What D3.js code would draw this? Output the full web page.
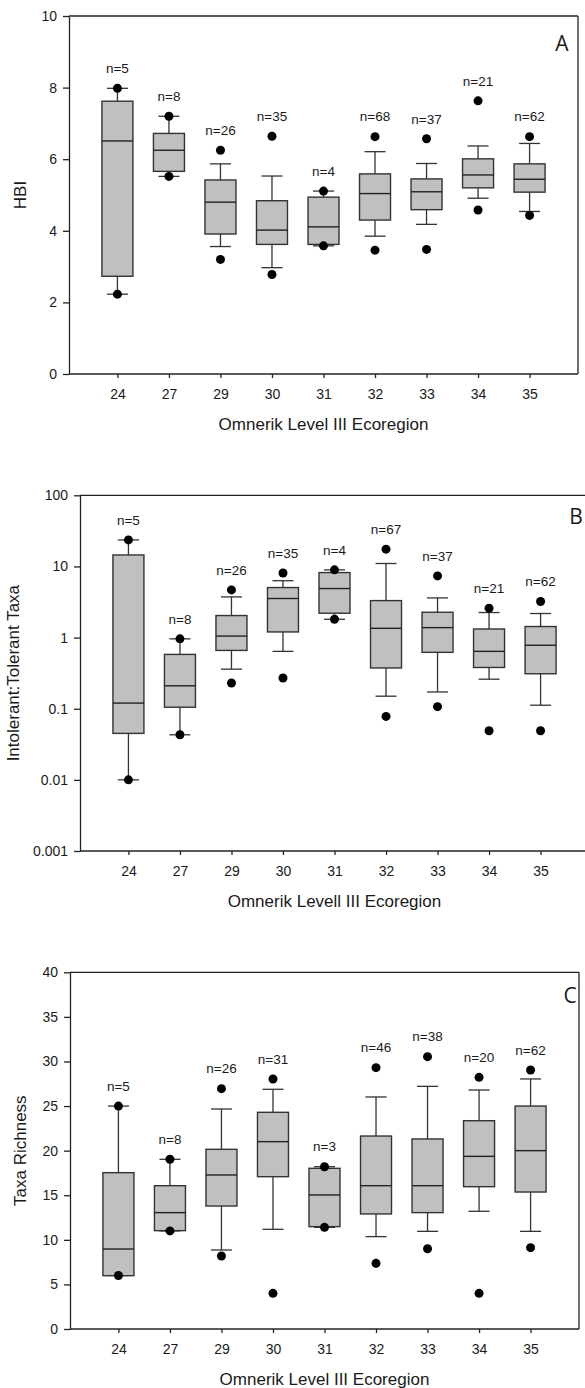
<!DOCTYPE html>
<html>
<head>
<meta charset="utf-8">
<script src="https://cdn.jsdelivr.net/npm/d3@7"></script>
<style>
  body { margin: 0; background: #fff; }
  svg text { font-family: "Liberation Sans", Arial, sans-serif; fill: #1a1a1a; }
</style>
</head>
<body>
<div id="chart"></div>
<script>
var w = 585;
var h = 1388;

// ecoregions on the x axis (same for all three panels)
var ecoregions = ["24", "27", "29", "30", "31", "32", "33", "34", "35"];

// A: HBI
var hbiN      = [5, 8, 26, 35, 4, 68, 37, 21, 62];
var hbiMin    = [2.23, 5.52, 3.20, 2.78, 3.58, 3.46, 3.48, 4.58, 4.43];
var hbiLo     = [2.23, 5.52, 3.56, 2.97, 3.58, 3.85, 4.18, 4.91, 4.54];
var hbiQ1     = [2.73, 5.66, 3.91, 3.62, 3.62, 4.30, 4.59, 5.20, 5.08];
var hbiMedian = [6.51, 6.25, 4.80, 4.02, 4.11, 5.04, 5.09, 5.56, 5.44];
var hbiQ3     = [7.62, 6.72, 5.42, 4.84, 4.94, 5.59, 5.45, 6.01, 5.87];
var hbiHi     = [7.98, 7.20, 5.87, 5.53, 5.11, 6.21, 5.88, 6.37, 6.44];
var hbiMax    = [7.98, 7.20, 6.25, 6.64, 5.11, 6.63, 6.57, 7.63, 6.63];
var hbiTicks  = [0, 2, 4, 6, 8, 10];

// B: Intolerant:Tolerant taxa ratio (log axis)
var ratioN      = [5, 8, 26, 35, 4, 67, 37, 21, 62];
var ratioMin    = [0.01, 0.043, 0.23, 0.27, 1.81, 0.078, 0.107, 0.049, 0.049];
var ratioLo     = [0.01, 0.043, 0.36, 0.64, 1.81, 0.15, 0.172, 0.26, 0.112];
var ratioQ1     = [0.045, 0.105, 0.66, 1.20, 2.2, 0.374, 0.62, 0.38, 0.31];
var ratioMedian = [0.12, 0.21, 1.05, 3.54, 4.89, 1.35, 1.38, 0.64, 0.78];
var ratioQ3     = [14.5, 0.58, 2.04, 5.05, 8.2, 3.31, 2.27, 1.32, 1.43];
var ratioHi     = [23.6, 0.96, 3.73, 6.3, 8.95, 11.0, 3.61, 2.25, 2.18];
var ratioMax    = [23.6, 0.96, 4.68, 8.1, 8.95, 17.5, 7.36, 2.59, 3.21];
var ratioTicks  = [0.001, 0.01, 0.1, 1, 10, 100];
var ratioTickLabels = ["0.001", "0.01", "0.1", "1", "10", "100"];

// C: taxa richness
var richN      = [5, 8, 26, 31, 3, 46, 38, 20, 62];
var richMin    = [6.0, 11.0, 8.19, 4.0, 11.4, 7.36, 9.0, 4.0, 9.12];
var richLo     = [6.0, 11.0, 8.86, 11.18, 11.4, 10.36, 10.95, 13.2, 10.95];
var richQ1     = [5.98, 11.03, 13.79, 17.08, 11.48, 12.9, 13.05, 15.96, 15.36];
var richMedian = [8.97, 13.05, 17.27, 21.01, 15.03, 16.07, 16.07, 19.36, 20.0];
var richQ3     = [17.53, 16.07, 20.15, 24.3, 18.02, 21.64, 21.31, 23.36, 25.0];
var richHi     = [25.0, 19.03, 24.67, 26.88, 18.2, 26.02, 27.21, 26.8, 28.04];
var richMax    = [25.0, 19.03, 26.95, 28.04, 18.2, 29.31, 30.54, 28.22, 29.05];
var richTicks  = [0, 5, 10, 15, 20, 25, 30, 35, 40];

const svg = d3.select("#chart")
    .append("svg")
    .attr("width", w)
    .attr("height", h);

function drawPanel(p) {
    var g = svg.append("g");

    var x = d3.scalePoint()
        .domain(ecoregions)
        .range([p.left, p.right])
        .padding(0.94);

    var y = p.log
        ? d3.scaleLog().domain([0.001, 100]).range([p.bottom, p.top])
        : d3.scaleLinear().domain([0, p.yMax]).range([p.bottom, p.top]);

    var rows = ecoregions.map(function (c, i) {
        return {
            cat: c, n: p.n[i], min: p.min[i], lo: p.lo[i], q1: p.q1[i],
            med: p.med[i], q3: p.q3[i], hi: p.hi[i], max: p.max[i]
        };
    });

    // frame: top and right edges
    g.append("line")
        .attr("x1", p.left).attr("x2", p.right)
        .attr("y1", p.top).attr("y2", p.top)
        .attr("stroke", "#222").attr("stroke-width", 1.3);
    g.append("line")
        .attr("x1", p.right).attr("x2", p.right)
        .attr("y1", p.top).attr("y2", p.bottom)
        .attr("stroke", "#222").attr("stroke-width", 1.3);

    var yAxis = d3.axisLeft(y)
        .tickValues(p.ticks)
        .tickSize(6)
        .tickPadding(6)
        .tickSizeOuter(0);
    if (p.tickLabels) yAxis.tickFormat(function (d, i) { return p.tickLabels[i]; });

    var ya = g.append("g")
        .attr("transform", "translate(" + p.left + ",0)")
        .call(yAxis);
    ya.selectAll("text").attr("font-size", 14);

    var xa = g.append("g")
        .attr("transform", "translate(0," + p.bottom + ")")
        .call(d3.axisBottom(x).tickSize(4).tickPadding(11).tickSizeOuter(0));
    xa.selectAll("text").attr("font-size", 14);

    g.selectAll(".domain, .tick line")
        .attr("stroke", "#222")
        .attr("stroke-width", 1.3);
    // extend x domain line from y axis to right edge
    xa.select(".domain").attr("d", "M" + p.left + ",0H" + p.right);

    var boxW = 31, capW = 21;

    // whiskers
    g.append("g").selectAll("line")
        .data(rows)
        .enter().append("line")
        .attr("x1", d => x(d.cat)).attr("x2", d => x(d.cat))
        .attr("y1", d => y(d.hi)).attr("y2", d => y(d.q3))
        .attr("stroke", "#333").attr("stroke-width", 1.3);
    g.append("g").selectAll("line")
        .data(rows)
        .enter().append("line")
        .attr("x1", d => x(d.cat)).attr("x2", d => x(d.cat))
        .attr("y1", d => y(d.q1)).attr("y2", d => y(d.lo))
        .attr("stroke", "#333").attr("stroke-width", 1.3);

    // caps
    ["hi", "lo"].forEach(function (k) {
        g.append("g").selectAll("line")
            .data(rows)
            .enter().append("line")
            .attr("x1", d => x(d.cat) - capW / 2).attr("x2", d => x(d.cat) + capW / 2)
            .attr("y1", d => y(d[k])).attr("y2", d => y(d[k]))
            .attr("stroke", "#333").attr("stroke-width", 1.3);
    });

    // boxes
    g.append("g").selectAll("rect")
        .data(rows)
        .enter().append("rect")
        .attr("x", d => x(d.cat) - boxW / 2)
        .attr("width", boxW)
        .attr("y", d => y(d.q3))
        .attr("height", d => y(d.q1) - y(d.q3))
        .attr("fill", "#c0c0c0")
        .attr("stroke", "#333")
        .attr("stroke-width", 1.4);

    // medians
    g.append("g").selectAll("line")
        .data(rows)
        .enter().append("line")
        .attr("x1", d => x(d.cat) - boxW / 2).attr("x2", d => x(d.cat) + boxW / 2)
        .attr("y1", d => y(d.med)).attr("y2", d => y(d.med))
        .attr("stroke", "#222").attr("stroke-width", 1.4);

    // extreme points
    ["min", "max"].forEach(function (k) {
        g.append("g").selectAll("circle")
            .data(rows)
            .enter().append("circle")
            .attr("cx", d => x(d.cat))
            .attr("cy", d => y(d[k]))
            .attr("r", 4.5)
            .attr("fill", "#000");
    });

    // sample sizes
    g.append("g").selectAll("text")
        .data(rows)
        .enter().append("text")
        .attr("x", d => x(d.cat))
        .attr("y", d => y(d.max) - 20)
        .attr("dy", "0.35em")
        .attr("text-anchor", "middle")
        .attr("font-size", 13.5)
        .text(d => "n=" + d.n);

    // panel letter
    g.append("text")
        .attr("x", p.letterX)
        .attr("y", p.top + p.letterDy)
        .attr("dy", "0.35em")
        .attr("text-anchor", "middle")
        .attr("font-size", 21)
        .style("font-family", "'Open Sans', 'Liberation Sans', sans-serif")
        .text(p.letter);

    // axis titles
    g.append("text")
        .attr("x", (p.left + p.right) / 2)
        .attr("y", p.bottom + 50)
        .attr("dy", "0.35em")
        .attr("text-anchor", "middle")
        .attr("font-size", 17)
        .text(p.xTitle);

    g.append("text")
        .attr("transform", "translate(" + p.yTitleX + "," + ((p.top + p.bottom) / 2) + ") rotate(-90)")
        .attr("dy", "0.35em")
        .attr("text-anchor", "middle")
        .attr("font-size", 17)
        .text(p.yTitle);
}

drawPanel({
    left: 69, right: 578, top: 16, bottom: 374, yMax: 10, ticks: hbiTicks,
    n: hbiN, min: hbiMin, lo: hbiLo, q1: hbiQ1, med: hbiMedian, q3: hbiQ3, hi: hbiHi, max: hbiMax,
    letter: "A", letterX: 562, letterDy: 28,
    xTitle: "Omnerik Level III Ecoregion", yTitle: "HBI", yTitleX: 20
});

drawPanel({
    left: 80, right: 589, top: 495.3, bottom: 851, log: true,
    ticks: ratioTicks, tickLabels: ratioTickLabels,
    n: ratioN, min: ratioMin, lo: ratioLo, q1: ratioQ1, med: ratioMedian, q3: ratioQ3, hi: ratioHi, max: ratioMax,
    letter: "B", letterX: 576, letterDy: 21,
    xTitle: "Omnerik Levell III Ecoregion", yTitle: "Intolerant:Tolerant Taxa", yTitleX: 13
});

drawPanel({
    left: 70, right: 579, top: 972.3, bottom: 1329, yMax: 40, ticks: richTicks,
    n: richN, min: richMin, lo: richLo, q1: richQ1, med: richMedian, q3: richQ3, hi: richHi, max: richMax,
    letter: "C", letterX: 570, letterDy: 23,
    xTitle: "Omnerik Level III Ecoregion", yTitle: "Taxa Richness", yTitleX: 20
});
</script>
</body>
</html>
